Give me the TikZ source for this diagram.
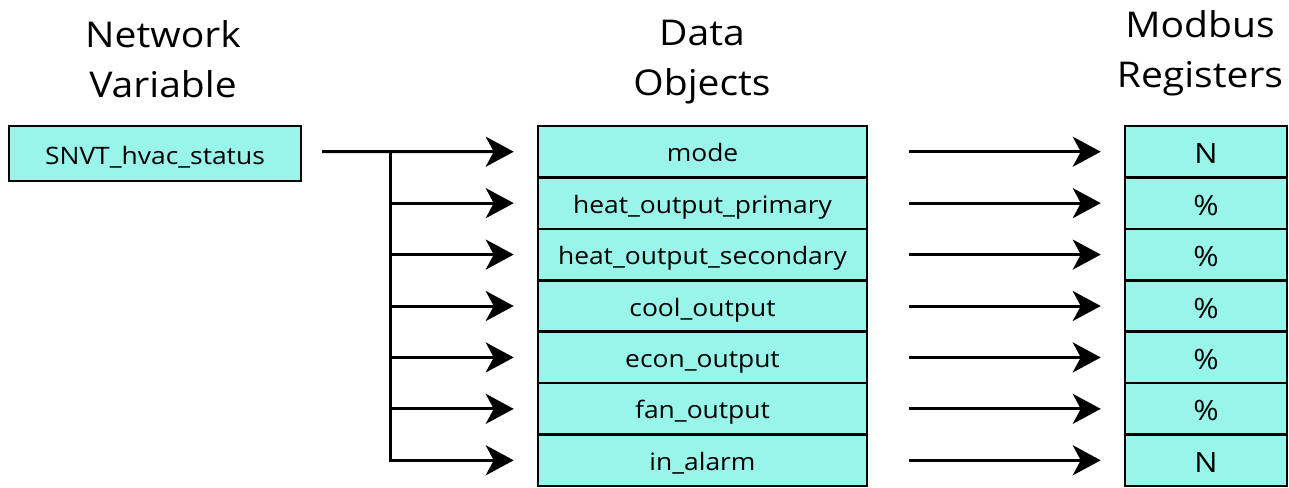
\documentclass[tikz,border=0pt]{standalone}
\usepackage{fontspec}
\setmainfont[FakeStretch=1.1]{Open Sans}
\usetikzlibrary{arrows.meta}
\definecolor{cellfill}{HTML}{99F5EA}
\begin{document}
\begin{tikzpicture}[x=1pt,y=-1pt,
  cell/.style={draw=black, line width=2.5pt, fill=cellfill, inner sep=0pt,
    minimum height=51.43pt, text height=20pt, text depth=0pt,
    font=\fontsize{24}{28}\selectfont},
  midcell/.style={cell, minimum width=329pt},
  regcell/.style={cell, minimum width=162pt, text height=24pt, font=\fontsize{28}{32}\selectfont},
  head/.style={align=center, anchor=north, inner sep=0pt, font=\fontsize{35.5}{50}\selectfont},
  conn/.style={line width=3pt},
  arr/.style={conn, -{Stealth[length=28pt,width=30pt,inset=8pt]}}]
\useasboundingbox (0,0) rectangle (1289,487);

\node[head] (h1) at (163,20) {Network\\Variable};
\node[head] (h2) at (702,20) {Data\\Objects};
\node[head] (h3) at (1200,10) {Modbus\\Registers};

\node[cell, minimum width=292pt, minimum height=55pt, text height=22pt] (src) at (155,153.5) {SNVT\_hvac\_status};

\foreach \i/\t/\r in {1/mode/N, 2/heat\_output\_primary/\%, 3/heat\_output\_secondary/\%,
  4/cool\_output/\%, 5/econ\_output/\%, 6/fan\_output/\%, 7/in\_alarm/N}{
  \node[midcell] (d\i) at (702.5,{126+51.43*(\i-0.5)}) {\t};
  \node[regcell] (r\i) at (1206,{126+51.43*(\i-0.5)}) {\r};
}

\coordinate (s0) at (322,151.7);
\coordinate (split) at (390,151.7);

\draw[arr, shorten >=23pt] (s0) -- (d1.west);
\foreach \i in {2,...,6}{
  \draw[arr, shorten >=23pt] (split |- d\i.west) -- (d\i.west);
}
\draw[arr, shorten >=23pt] (split) |- (d7.west);

\foreach \i in {1,...,7}{
  \draw[arr, shorten <=41pt, shorten >=23pt] (d\i.east) -- (r\i.west);
}
\end{tikzpicture}
\end{document}
